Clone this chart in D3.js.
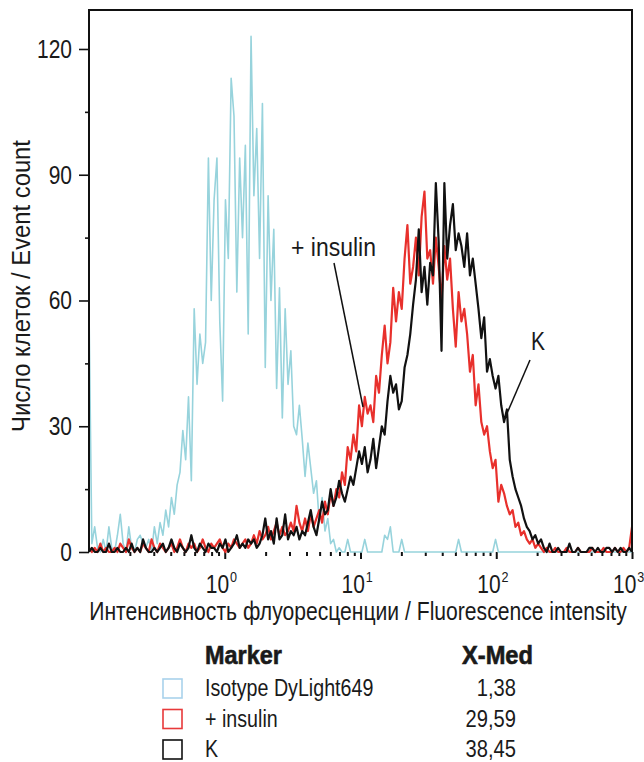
<!DOCTYPE html>
<html>
<head>
<meta charset="utf-8">
<script src="https://cdn.jsdelivr.net/npm/d3@7"></script>
<style>
  body { margin: 0; background: #fff; }
  text { font-family: "Liberation Sans", Arial, sans-serif; fill: #1a1a1a; }
</style>
</head>
<body>
<svg id="canvas"></svg>
<script>
let width = 644;
let height = 762;

// 192 channels spread over 4 decades (0.1 .. 1000)
let channelCount = 192;

let isotypeCounts = [
  58, 2, 6, 1, 0, 3, 0, 6, 1, 0,
  4, 9, 2, 0, 6, 1, 0, 3, 4, 2,
  1, 3, 0, 6, 2, 7, 4, 10, 6, 13,
  9, 16, 19, 29, 22, 37, 17, 58, 40, 52,
  45, 50, 94, 60, 84, 94, 55, 36, 84, 70,
  113, 104, 62, 94, 75, 97, 52, 123, 85, 101,
  70, 107, 44, 85, 60, 77, 39, 63, 32, 58,
  40, 48, 30, 28, 35, 27, 18, 26, 20, 14,
  17, 7, 13, 5, 8, 2, 3, 0, 1, 0,
  0, 3, 0, 0, 0, 0, 0, 3, 0, 0,
  0, 0, 0, 0, 4, 3, 6, 0, 0, 0,
  3, 0, 0, 0, 0, 0, 0, 0, 0, 0,
  0, 0, 0, 0, 0, 0, 0, 0, 0, 0,
  3, 0, 0, 0, 0, 0, 0, 0, 0, 0,
  0, 0, 0, 3, 0, 0, 0, 0, 0, 0,
  0, 0, 0, 0, 0, 0, 0, 0, 0, 0,
  0, 0, 0, 0, 0, 0, 0, 0, 0, 0,
  0, 0, 0, 0, 0, 0, 0, 0, 0, 0,
  0, 0, 0, 0, 0, 0, 0, 0, 0, 0,
  0, 0
];

let insulinCounts = [
  1, 0, 1, 0, 2, 0, 1, 0, 0, 1,
  0, 2, 1, 0, 3, 1, 0, 1, 0, 2,
  1, 0, 3, 1, 0, 2, 1, 0, 1, 2,
  0, 1, 3, 1, 0, 2, 1, 2, 0, 1,
  3, 1, 0, 2, 1, 2, 3, 1, 0, 2,
  1, 3, 2, 1, 2, 3, 1, 2, 4, 2,
  5, 3, 4, 6, 3, 5, 7, 4, 6, 4,
  5, 7, 5, 11, 7, 5, 8, 5, 9, 6,
  8, 10, 7, 12, 9, 14, 11, 15, 13, 19,
  16, 25, 22, 28, 24, 35, 30, 37, 33, 35,
  31, 42, 38, 47, 54, 45, 50, 63, 55, 62,
  58, 70, 78, 64, 68, 75, 66, 80, 86, 70,
  72, 64, 75, 68, 60, 73, 65, 70, 58, 49,
  62, 55, 58, 52, 43, 47, 35, 40, 31, 28,
  30, 24, 20, 22, 12, 16, 14, 11, 9, 10,
  6, 7, 4, 5, 3, 2, 3, 1, 2, 1,
  0, 1, 0, 0, 1, 0, 0, 0, 1, 0,
  0, 0, 1, 0, 0, 0, 0, 1, 0, 0,
  0, 1, 0, 0, 0, 1, 0, 0, 1, 0,
  1, 6
];

let controlCounts = [
  0, 1, 0, 0, 1, 0, 0, 2, 0, 0,
  1, 0, 0, 1, 0, 2, 0, 1, 0, 3,
  1, 0, 0, 1, 0, 1, 2, 0, 1, 3,
  1, 0, 2, 1, 0, 1, 4, 1, 0, 2,
  1, 0, 2, 1, 1, 0, 2, 1, 3, 0,
  1, 2, 4, 1, 2, 1, 3, 2, 3, 1,
  2, 4, 8, 3, 5, 2, 8, 3, 4, 9,
  3, 5, 4, 6, 3, 5, 4, 7, 10, 6,
  4, 8, 12, 9, 10, 15, 11, 13, 17, 14,
  12, 15, 18, 16, 20, 24, 21, 25, 19, 22,
  27, 20, 25, 30, 28, 36, 42, 38, 40, 34,
  36, 44, 47, 52, 59, 65, 77, 62, 68, 59,
  69, 66, 88, 74, 48, 88, 70, 78, 83, 72,
  76, 73, 68, 76, 66, 70, 64, 58, 51, 56,
  43, 46, 42, 39, 42, 35, 31, 34, 22, 18,
  15, 13, 11, 8, 6, 5, 3, 4, 2, 3,
  1, 0, 2, 0, 0, 1, 0, 0, 0, 2,
  0, 0, 1, 0, 0, 0, 1, 1, 0, 1,
  0, 0, 1, 1, 0, 1, 0, 1, 0, 0,
  1, 0
];

let yTicks = [0, 30, 60, 90, 120];
let yMinorTicks = [15, 45, 75, 105];
let xTickExponents = [0, 1, 2, 3];

let markerNames = ['Isotype DyLight649', '+ insulin', 'K'];
let markerMedians = ['1,38', '29,59', '38,45'];
let markerColors = ['#a9d2ec', '#e8393a', '#111111'];
let traceColors = ['#97d3dc', '#e8302c', '#111111'];

let canvas = d3.select('#canvas').attr('width', width).attr('height', height);

let plotLeft = 89;
let plotRight = 632;
let plotTop = 10;
let plotBottom = 552;

let xScale = d3.scaleLog().domain([0.1, 1000]).range([plotLeft, plotRight]);
let yScale = d3.scaleLinear().domain([0, 129.3]).range([plotBottom, plotTop]);

let channelValue = (i) => 0.1 * Math.pow(10, (4 * i) / (channelCount - 1));

// the reference uses a condensed face: draw text at the origin and squeeze it
// horizontally with a transform (k = ratio, or target width when w is given)
let narrowText = (parent, str, x, y, size, opts = {}) => {
  let t = parent.append('text')
    .attr('font-size', size)
    .attr('text-anchor', opts.anchor || 'start')
    .text(str);
  if (opts.bold) t.attr('font-weight', 'bold').attr('stroke', '#1a1a1a').attr('stroke-width', 0.6);
  let k = opts.k || 0.84;
  if (opts.w) k = opts.w / t.node().getComputedTextLength();
  let rot = opts.rotate ? ' rotate(-90)' : '';
  t.attr('transform', `translate(${x}, ${y})${rot} scale(${k}, 1)`);
  return t;
};

// x axis ticks (no domain line, the traces sit on the baseline)
let xAxis = d3.axisBottom(xScale)
  .tickValues(xTickExponents.map((e) => Math.pow(10, e)))
  .tickSize(7)
  .tickFormat('');
canvas.append('g')
  .attr('transform', `translate(0, ${plotBottom})`)
  .call(xAxis)
  .call((g) => g.select('.domain').remove())
  .call((g) => g.selectAll('line').attr('stroke', '#111').attr('stroke-width', 2));

let minorX = [];
[0.1, 1, 10, 100].forEach((base) => {
  for (let k = 2; k <= 9; k++) minorX.push(base * k);
});
let xMinorAxis = d3.axisBottom(xScale).tickValues(minorX).tickSize(4).tickFormat('');
canvas.append('g')
  .attr('transform', `translate(0, ${plotBottom})`)
  .call(xMinorAxis)
  .call((g) => g.select('.domain').remove())
  .call((g) => g.selectAll('line').attr('stroke', '#111').attr('stroke-width', 2));

// y axis
let yAxis = d3.axisLeft(yScale).tickValues(yTicks).tickSize(10).tickFormat('');
canvas.append('g')
  .attr('transform', `translate(${plotLeft}, 0)`)
  .call(yAxis)
  .call((g) => g.select('.domain').remove())
  .call((g) => g.selectAll('line').attr('stroke', '#111').attr('stroke-width', 1.6));

let yMinorAxis = d3.axisLeft(yScale).tickValues(yMinorTicks).tickSize(4).tickFormat('');
canvas.append('g')
  .attr('transform', `translate(${plotLeft}, 0)`)
  .call(yMinorAxis)
  .call((g) => g.select('.domain').remove())
  .call((g) => g.selectAll('line').attr('stroke', '#111').attr('stroke-width', 1.6));

yTicks.forEach((d) => {
  narrowText(canvas, d, 72, yScale(d) + 9, 25, { anchor: 'end' });
});

// decade labels: "10" plus the exponent as a superscript, in one text
xTickExponents.forEach((e) => {
  let t = narrowText(canvas, '', xScale(Math.pow(10, e)) - 19, 593, 25, { k: 0.84 });
  t.append('tspan').text('10');
  t.append('tspan').attr('font-size', 15).attr('dx', 1).attr('dy', -11).text(e);
});

// traces
let line = d3.line()
  .x((d, i) => xScale(channelValue(i)))
  .y((d) => yScale(d));

let traces = [isotypeCounts, insulinCounts, controlCounts];
canvas.selectAll('.trace')
  .data(traces)
  .enter()
  .append('path')
  .attr('class', 'trace')
  .attr('d', (d) => line(d))
  .attr('fill', 'none')
  .attr('stroke', (d, i) => traceColors[i])
  .attr('stroke-width', (d, i) => (i === 0 ? 1.6 : 2.2))
  .attr('stroke-linejoin', 'round');

// frame: left, top, right
canvas.append('path')
  .attr('d', `M${plotLeft},${plotBottom}V${plotTop}H${plotRight}V${plotBottom}`)
  .attr('fill', 'none')
  .attr('stroke', '#111')
  .attr('stroke-width', 2);

// axis titles
narrowText(canvas, 'Интенсивность флуоресценции / Fluorescence intensity', 358, 620, 25,
  { anchor: 'middle', w: 538 });
narrowText(canvas, 'Число клеток / Event count', 30, 286, 25,
  { anchor: 'middle', w: 292, rotate: true });

// annotations
narrowText(canvas, '+ insulin', 291, 256, 25, { w: 85 });
canvas.append('line')
  .attr('x1', 334).attr('y1', 263)
  .attr('x2', 363).attr('y2', 407)
  .attr('stroke', '#111').attr('stroke-width', 1.5);

narrowText(canvas, 'K', 531, 350, 25, { w: 14 });
canvas.append('line')
  .attr('x1', 530).attr('y1', 360)
  .attr('x2', 505).attr('y2', 418)
  .attr('stroke', '#111').attr('stroke-width', 1.5);

// legend table
narrowText(canvas, 'Marker', 205, 664, 25, { bold: true, w: 77 });
narrowText(canvas, 'X-Med', 462, 664, 25, { bold: true, w: 71 });

markerNames.forEach((name, i) => {
  let rowY = 696 + i * 30.5;
  canvas.append('rect')
    .attr('x', 163).attr('y', rowY - 17)
    .attr('width', 19).attr('height', 19)
    .attr('fill', 'none')
    .attr('stroke', markerColors[i])
    .attr('stroke-width', 1.6);
  narrowText(canvas, name, 205, rowY, 24, { k: 0.82 });
  narrowText(canvas, markerMedians[i], 516, rowY, 24, { anchor: 'end', k: 0.84 });
});
</script>
</body>
</html>
